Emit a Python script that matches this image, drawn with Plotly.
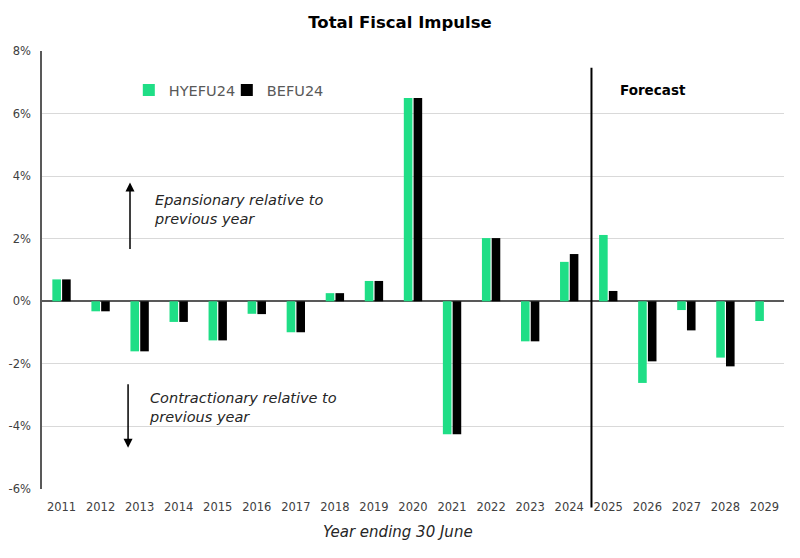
import plotly.graph_objects as go

years = [str(y) for y in range(2011, 2030)]
hyefu24 = [0.7, -0.32, -1.6, -0.66, -1.25, -0.4, -0.99, 0.26, 0.65, 6.5, -4.25, 2.02, -1.28, 1.26, 2.12, -2.61, -0.28, -1.8, -0.63]
befu24 = [0.7, -0.32, -1.6, -0.66, -1.25, -0.41, -0.99, 0.26, 0.65, 6.5, -4.25, 2.02, -1.28, 1.51, 0.33, -1.92, -0.93, -2.08, None]
y_ticks = [-6, -4, -2, 0, 2, 4, 6, 8]
y_tick_labels = [f"{v}%" for v in y_ticks]

FONT = "'DejaVu Sans', sans-serif"
GREEN = "#1FDE86"

fig = go.Figure()
fig.add_trace(go.Bar(x=years, y=hyefu24, name="HYEFU24", marker_color=GREEN, marker_line_width=0))
fig.add_trace(go.Bar(x=years, y=befu24, name="BEFU24", marker_color="#000000", marker_line_width=0))

fig.update_layout(
    width=800, height=558,
    margin=dict(l=42, r=16, t=51, b=69, autoexpand=False),
    paper_bgcolor="white", plot_bgcolor="white",
    font=dict(family=FONT, color="#404040"),
    title=dict(text="<b>Total Fiscal Impulse</b>", x=0.5, xanchor="center", y=0.96, yanchor="middle",
               font=dict(size=16.5, color="#000000", family=FONT)),
    barmode="group", bargap=0.5, bargroupgap=0.12,
    showlegend=True,
    legend=dict(orientation="h", x=0.117, y=0.911, xanchor="left", yanchor="middle",
                font=dict(size=14.5, color="#595959", family=FONT), bgcolor="rgba(0,0,0,0)",
                itemwidth=30, entrywidth=53, traceorder="normal"),
    xaxis=dict(type="category", showgrid=False, showline=False, ticks="", automargin=False,
               ticklabelstandoff=9, tickfont=dict(size=11.5, color="#404040")),
    yaxis=dict(range=[-6, 8], tickvals=y_ticks, ticktext=y_tick_labels, showgrid=True,
               gridcolor="#D9D9D9", gridwidth=1, zeroline=True, zerolinecolor="#595959",
               zerolinewidth=1.5, showline=True, linecolor="#595959", linewidth=1.5,
               ticks="", automargin=False, ticklabelstandoff=7,
               tickfont=dict(size=11.5, color="#404040")),
)

# Forecast divider
fig.add_shape(type="line", xref="x", yref="paper", x0=13.57, x1=13.57, y0=-0.042, y1=0.962,
              line=dict(color="#000000", width=2))

fig.add_annotation(text="<b>Forecast</b>", xref="paper", yref="paper", x=0.823, y=0.912,
                   xanchor="center", yanchor="middle",
                   showarrow=False, font=dict(size=13.5, color="#000000", family=FONT))

fig.add_annotation(text="<i>Epansionary relative to<br>previous year</i>", xref="paper", yref="paper",
                   x=0.148, y=0.639, xanchor="left", yanchor="middle", align="left", showarrow=False,
                   font=dict(size=14.5, color="#262626", family=FONT))
fig.add_annotation(text="<i>Contractionary relative to<br>previous year</i>", xref="paper", yref="paper",
                   x=0.142, y=0.187, xanchor="left", yanchor="middle", align="left", showarrow=False,
                   font=dict(size=14.5, color="#262626", family=FONT))

# Arrows
fig.add_annotation(text="", xref="paper", yref="paper", x=0.1186, y=0.70, ax=0, ay=68,
                   showarrow=True, arrowhead=2, arrowsize=1.2, arrowwidth=1.5, arrowcolor="#000000")
fig.add_annotation(text="", xref="paper", yref="paper", x=0.116, y=0.094, ax=0, ay=-65,
                   showarrow=True, arrowhead=2, arrowsize=1.2, arrowwidth=1.5, arrowcolor="#000000")

fig.add_annotation(text="<i>Year ending 30 June</i>", xref="paper", yref="paper", x=0.480, y=-0.098,
                   xanchor="center", yanchor="middle",
                   showarrow=False, font=dict(size=15, color="#262626", family=FONT))

fig.write_html("out.html", config={"displayModeBar": False},
               post_script="document.body.style.margin='0';document.body.style.padding='0';")
